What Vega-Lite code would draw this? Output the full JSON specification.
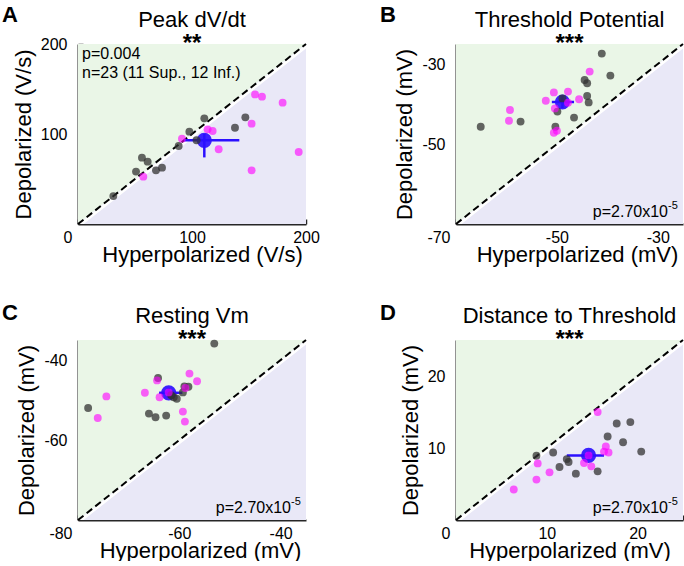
{
"$schema": "https://vega.github.io/schema/vega-lite/v6.json",
"padding": {"left": 2, "top": 4, "right": 0, "bottom": 0},
"datasets": {
"triA": [{"x": 0, "lo": 0, "diag": 0, "hi": 200}, {"x": 200, "lo": 0, "diag": 200, "hi": 200}],
"triB": [{"x": -70, "lo": -70, "diag": -70, "hi": -25}, {"x": -25, "lo": -70, "diag": -25, "hi": -25}],
"triC": [{"x": -80, "lo": -80, "diag": -80, "hi": -35}, {"x": -35, "lo": -80, "diag": -35, "hi": -35}],
"triD": [{"x": 0, "lo": 0, "diag": 0, "hi": 25}, {"x": 25, "lo": 0, "diag": 25, "hi": 25}],
"meanA": [{"h": 110.8, "d": 93, "hlo": 93, "hhi": 141.5, "dlo": 74, "dhi": 100}],
"meanB": [{"h": -48.9, "d": -39.5, "hlo": -51, "hhi": -46.6, "dlo": -41, "dhi": -38}],
"meanC": [{"h": -62.1, "d": -48.2, "hlo": -64, "hhi": -59.4, "dlo": -49.5, "dhi": -47}],
"meanD": [{"h": 14.6, "d": 8.97, "hlo": 12.2, "hhi": 16.3, "dlo": 8.3, "dhi": 9.6}],
"infoA": [{"letter": "A", "title": "Peak dV/dt", "stars": "**", "note": "p=0.004\nn=23 (11 Sup., 12 Inf.)"}],
"infoB": [{"letter": "B", "title": "Threshold Potential", "stars": "***", "note": "p=2.70x10", "sup": "-5"}],
"infoC": [{"letter": "C", "title": "Resting Vm", "stars": "***", "note": "p=2.70x10", "sup": "-5"}],
"infoD": [{"letter": "D", "title": "Distance to Threshold", "stars": "***", "note": "p=2.70x10", "sup": "-5"}],
"ptsA": [
{"group": "Inf", "h": 31, "d": 31}, {"group": "Inf", "h": 50.9, "d": 58.2}, {"group": "Inf", "h": 56.1, "d": 73.7}, {"group": "Inf", "h": 61.1, "d": 69.3}, {"group": "Inf", "h": 68.4, "d": 59.6}, {"group": "Inf", "h": 73.7, "d": 62.6}, {"group": "Inf", "h": 88.3, "d": 86.7}, {"group": "Inf", "h": 97.7, "d": 102.6}, {"group": "Inf", "h": 110.8, "d": 117.4}, {"group": "Inf", "h": 104, "d": 93}, {"group": "Inf", "h": 137.7, "d": 107}, {"group": "Inf", "h": 146.8, "d": 118.5},
{"group": "Sup", "h": 57.3, "d": 52.6}, {"group": "Sup", "h": 91.2, "d": 94.8}, {"group": "Sup", "h": 113.7, "d": 105.2}, {"group": "Sup", "h": 118.1, "d": 103.3}, {"group": "Sup", "h": 123.4, "d": 83}, {"group": "Sup", "h": 152.3, "d": 111.5}, {"group": "Sup", "h": 155.3, "d": 144}, {"group": "Sup", "h": 161.4, "d": 141.5}, {"group": "Sup", "h": 179.5, "d": 134.8}, {"group": "Sup", "h": 193.6, "d": 80}, {"group": "Sup", "h": 152.3, "d": 59.6}],
"ptsB": [
{"group": "Inf", "h": -65.1, "d": -45.7}, {"group": "Inf", "h": -57.2, "d": -44.4}, {"group": "Inf", "h": -50.3, "d": -45.7}, {"group": "Inf", "h": -49.9, "d": -41.9}, {"group": "Inf", "h": -48.9, "d": -38.6}, {"group": "Inf", "h": -46.6, "d": -43.4}, {"group": "Inf", "h": -44.5, "d": -34.0}, {"group": "Inf", "h": -44.0, "d": -34.8}, {"group": "Inf", "h": -44.0, "d": -38.0}, {"group": "Inf", "h": -43.7, "d": -39.6}, {"group": "Inf", "h": -41.1, "d": -27.4}, {"group": "Inf", "h": -39.4, "d": -32.9},
{"group": "Sup", "h": -59.3, "d": -41.5}, {"group": "Sup", "h": -59.5, "d": -44.2}, {"group": "Sup", "h": -52.2, "d": -39.2}, {"group": "Sup", "h": -50.6, "d": -37.1}, {"group": "Sup", "h": -50.4, "d": -41.1}, {"group": "Sup", "h": -50.6, "d": -47.2}, {"group": "Sup", "h": -50.0, "d": -46.7}, {"group": "Sup", "h": -47.8, "d": -36.9}, {"group": "Sup", "h": -47.8, "d": -39.7}, {"group": "Sup", "h": -45.6, "d": -38.8}, {"group": "Sup", "h": -43.5, "d": -31.9}],
"ptsC": [
{"group": "Inf", "h": -78.0, "d": -52.0}, {"group": "Inf", "h": -66.0, "d": -53.4}, {"group": "Inf", "h": -64.7, "d": -54.3}, {"group": "Inf", "h": -62.6, "d": -53.9}, {"group": "Inf", "h": -64.2, "d": -44.5}, {"group": "Inf", "h": -61.1, "d": -49.3}, {"group": "Inf", "h": -60.5, "d": -49.7}, {"group": "Inf", "h": -59.3, "d": -48.1}, {"group": "Inf", "h": -59.0, "d": -46.6}, {"group": "Inf", "h": -58.2, "d": -46.7}, {"group": "Inf", "h": -53.1, "d": -35.9}, {"group": "Inf", "h": -61.6, "d": -48.8},
{"group": "Sup", "h": -76.1, "d": -54.5}, {"group": "Sup", "h": -74.4, "d": -49.1}, {"group": "Sup", "h": -66.8, "d": -48.2}, {"group": "Sup", "h": -64.4, "d": -45.1}, {"group": "Sup", "h": -63.9, "d": -49.3}, {"group": "Sup", "h": -62.1, "d": -48.1}, {"group": "Sup", "h": -59.3, "d": -52.9}, {"group": "Sup", "h": -58.9, "d": -55.4}, {"group": "Sup", "h": -58.8, "d": -47.0}, {"group": "Sup", "h": -58.0, "d": -43.4}, {"group": "Sup", "h": -56.5, "d": -45.3}],
"ptsD": [
{"group": "Inf", "h": 8.86, "d": 8.92}, {"group": "Inf", "h": 10.7, "d": 9.38}, {"group": "Inf", "h": 11.4, "d": 7.36}, {"group": "Inf", "h": 12.2, "d": 8.46}, {"group": "Inf", "h": 12.4, "d": 8.05}, {"group": "Inf", "h": 13.2, "d": 6.44}, {"group": "Inf", "h": 15.6, "d": 6.76}, {"group": "Inf", "h": 16.7, "d": 11.6}, {"group": "Inf", "h": 17.7, "d": 13.4}, {"group": "Inf", "h": 18.4, "d": 10.8}, {"group": "Inf", "h": 19.2, "d": 13.6}, {"group": "Inf", "h": 20.4, "d": 9.5},
{"group": "Sup", "h": 6.36, "d": 4.23}, {"group": "Sup", "h": 8.86, "d": 5.61}, {"group": "Sup", "h": 9.0, "d": 7.86}, {"group": "Sup", "h": 10.3, "d": 6.62}, {"group": "Sup", "h": 14.1, "d": 7.91}, {"group": "Sup", "h": 14.6, "d": 8.97}, {"group": "Sup", "h": 14.9, "d": 7.45}, {"group": "Sup", "h": 15.6, "d": 15.0}, {"group": "Sup", "h": 16.5, "d": 10.2}, {"group": "Sup", "h": 16.8, "d": 9.38}, {"group": "Sup", "h": 16.3, "d": 9.5}]
},
"columns": 2,
"spacing": {"row": 37, "column": 60},
"concat": [
{
"width": 228, "height": 180,
"layer": [
{"data": {"name": "triA"}, "mark": {"type": "area", "color": "#eaf6e7"},
 "encoding": {
  "x": {"field": "x", "type": "quantitative", "scale": {"domain": [0, 200], "nice": false, "zero": false},
        "axis": {"title": "Hyperpolarized (V/s)", "titleX": 124, "values": [0, 100, 200],
                 "labelAlign": {"condition": {"test": "datum.value == 0", "value": "right"}, "value": "center"},
                 "labelOffset": {"condition": {"test": "datum.value == 0", "value": -6}, "value": 0}}},
  "y": {"field": "diag", "type": "quantitative", "scale": {"domain": [0, 200], "nice": false, "zero": false},
        "axis": {"title": "Depolarized (V/s)", "values": [100, 200]}},
  "y2": {"field": "hi"}}},
{"data": {"name": "triA"}, "mark": {"type": "area", "color": "#e9e8f7"},
 "encoding": {"x": {"field": "x", "type": "quantitative"}, "y": {"field": "lo", "type": "quantitative"}, "y2": {"field": "diag"}}},
{"data": {"name": "triA"}, "mark": {"type": "line", "color": "white", "strokeWidth": 3, "yOffset": 2.5, "clip": true},
 "encoding": {"x": {"field": "x", "type": "quantitative"}, "y": {"field": "diag", "type": "quantitative"}}},
{"data": {"name": "triA"}, "mark": {"type": "line", "color": "black", "strokeWidth": 2, "strokeDash": [7, 4]},
 "encoding": {"x": {"field": "x", "type": "quantitative"}, "y": {"field": "diag", "type": "quantitative"}}},
{"data": {"name": "meanA"}, "mark": {"type": "rule", "color": "#2b0fff", "strokeWidth": 2.5},
 "encoding": {"x": {"field": "hlo", "type": "quantitative"}, "x2": {"field": "hhi"}, "y": {"field": "d", "type": "quantitative"}}},
{"data": {"name": "meanA"}, "mark": {"type": "rule", "color": "#2b0fff", "strokeWidth": 2.5},
 "encoding": {"x": {"field": "h", "type": "quantitative"}, "y": {"field": "dlo", "type": "quantitative"}, "y2": {"field": "dhi"}}},
{"data": {"name": "meanA"}, "mark": {"type": "circle", "size": 230, "color": "#2b0fff", "opacity": 0.92},
 "encoding": {"x": {"field": "h", "type": "quantitative"}, "y": {"field": "d", "type": "quantitative"}}},
{"data": {"name": "ptsA"}, "mark": {"type": "circle", "size": 62},
 "encoding": {"x": {"field": "h", "type": "quantitative"}, "y": {"field": "d", "type": "quantitative"},
  "color": {"field": "group", "type": "nominal", "scale": {"domain": ["Sup", "Inf"], "range": ["#ff00ff", "#333333"]}, "legend": null},
  "opacity": {"field": "group", "type": "nominal", "scale": {"domain": ["Sup", "Inf"], "range": [0.62, 0.75]}, "legend": null}}},
{"data": {"name": "infoA"}, "mark": {"type": "text", "align": "left", "baseline": "alphabetic", "dx": 4, "dy": 15, "fontSize": 16, "lineHeight": 19, "lineBreak": "\n", "font": "Liberation Sans", "color": "black"},
 "encoding": {"x": {"datum": 0}, "y": {"datum": 200}, "text": {"field": "note"}}},
{"data": {"name": "infoA"}, "mark": {"type": "text", "align": "center", "baseline": "alphabetic", "dy": -17, "fontSize": 22, "font": "Liberation Sans", "color": "black"},
 "encoding": {"x": {"datum": 100}, "y": {"datum": 200}, "text": {"field": "title"}}},
{"data": {"name": "infoA"}, "mark": {"type": "text", "align": "center", "baseline": "alphabetic", "dy": 7, "fontSize": 24, "fontWeight": "bold", "font": "Liberation Sans", "color": "black"},
 "encoding": {"x": {"datum": 100}, "y": {"datum": 200}, "text": {"field": "stars"}}},
{"data": {"name": "infoA"}, "mark": {"type": "text", "align": "left", "baseline": "alphabetic", "dx": -76, "dy": -22, "fontSize": 22, "fontWeight": "bold", "font": "Liberation Sans", "color": "black"},
 "encoding": {"x": {"datum": 0}, "y": {"datum": 200}, "text": {"field": "letter"}}}
]
},
{
"width": 227, "height": 180,
"layer": [
{"data": {"name": "triB"}, "mark": {"type": "area", "color": "#eaf6e7"},
 "encoding": {
  "x": {"field": "x", "type": "quantitative", "scale": {"domain": [-70, -25], "nice": false, "zero": false},
        "axis": {"title": "Hyperpolarized (mV)", "titleX": 121, "values": [-70, -50, -30], "labelExpr": "'' + datum.value",
                 "labelAlign": {"condition": {"test": "datum.value == -70", "value": "right"}, "value": "center"},
                 "labelOffset": {"condition": {"test": "datum.value == -70", "value": -6}, "value": 0}}},
  "y": {"field": "diag", "type": "quantitative", "scale": {"domain": [-70, -25], "nice": false, "zero": false},
        "axis": {"title": "Depolarized (mV)", "values": [-50, -30], "labelExpr": "'' + datum.value"}},
  "y2": {"field": "hi"}}},
{"data": {"name": "triB"}, "mark": {"type": "area", "color": "#e9e8f7"},
 "encoding": {"x": {"field": "x", "type": "quantitative"}, "y": {"field": "lo", "type": "quantitative"}, "y2": {"field": "diag"}}},
{"data": {"name": "triB"}, "mark": {"type": "line", "color": "white", "strokeWidth": 3, "yOffset": 2.5, "clip": true},
 "encoding": {"x": {"field": "x", "type": "quantitative"}, "y": {"field": "diag", "type": "quantitative"}}},
{"data": {"name": "triB"}, "mark": {"type": "line", "color": "black", "strokeWidth": 2, "strokeDash": [7, 4]},
 "encoding": {"x": {"field": "x", "type": "quantitative"}, "y": {"field": "diag", "type": "quantitative"}}},
{"data": {"name": "meanB"}, "mark": {"type": "rule", "color": "#2b0fff", "strokeWidth": 2.5},
 "encoding": {"x": {"field": "hlo", "type": "quantitative"}, "x2": {"field": "hhi"}, "y": {"field": "d", "type": "quantitative"}}},
{"data": {"name": "meanB"}, "mark": {"type": "rule", "color": "#2b0fff", "strokeWidth": 2.5},
 "encoding": {"x": {"field": "h", "type": "quantitative"}, "y": {"field": "dlo", "type": "quantitative"}, "y2": {"field": "dhi"}}},
{"data": {"name": "meanB"}, "mark": {"type": "circle", "size": 230, "color": "#2b0fff", "opacity": 0.92},
 "encoding": {"x": {"field": "h", "type": "quantitative"}, "y": {"field": "d", "type": "quantitative"}}},
{"data": {"name": "ptsB"}, "mark": {"type": "circle", "size": 62},
 "encoding": {"x": {"field": "h", "type": "quantitative"}, "y": {"field": "d", "type": "quantitative"},
  "color": {"field": "group", "type": "nominal", "scale": {"domain": ["Sup", "Inf"], "range": ["#ff00ff", "#333333"]}, "legend": null},
  "opacity": {"field": "group", "type": "nominal", "scale": {"domain": ["Sup", "Inf"], "range": [0.62, 0.75]}, "legend": null}}},
{"data": {"name": "infoB"}, "mark": {"type": "text", "align": "right", "baseline": "alphabetic", "dx": -15, "dy": -7, "fontSize": 16, "font": "Liberation Sans", "color": "black"},
 "encoding": {"x": {"datum": -25}, "y": {"datum": -70}, "text": {"field": "note"}}},
{"data": {"name": "infoB"}, "mark": {"type": "text", "align": "left", "baseline": "alphabetic", "dx": -15, "dy": -15, "fontSize": 11, "font": "Liberation Sans", "color": "black"},
 "encoding": {"x": {"datum": -25}, "y": {"datum": -70}, "text": {"field": "sup"}}},
{"data": {"name": "infoB"}, "mark": {"type": "text", "align": "center", "baseline": "alphabetic", "dy": -17, "fontSize": 22, "font": "Liberation Sans", "color": "black"},
 "encoding": {"x": {"datum": -47.5}, "y": {"datum": -25}, "text": {"field": "title"}}},
{"data": {"name": "infoB"}, "mark": {"type": "text", "align": "center", "baseline": "alphabetic", "dy": 7, "fontSize": 24, "fontWeight": "bold", "font": "Liberation Sans", "color": "black"},
 "encoding": {"x": {"datum": -47.5}, "y": {"datum": -25}, "text": {"field": "stars"}}},
{"data": {"name": "infoB"}, "mark": {"type": "text", "align": "left", "baseline": "alphabetic", "dx": -76, "dy": -22, "fontSize": 22, "fontWeight": "bold", "font": "Liberation Sans", "color": "black"},
 "encoding": {"x": {"datum": -70}, "y": {"datum": -25}, "text": {"field": "letter"}}}
]
},
{
"width": 228, "height": 180,
"layer": [
{"data": {"name": "triC"}, "mark": {"type": "area", "color": "#eaf6e7"},
 "encoding": {
  "x": {"field": "x", "type": "quantitative", "scale": {"domain": [-80, -35], "nice": false, "zero": false},
        "axis": {"title": "Hyperpolarized (mV)", "titleX": 122, "values": [-80, -60, -40], "labelExpr": "'' + datum.value",
                 "labelAlign": {"condition": {"test": "datum.value == -80", "value": "right"}, "value": "center"},
                 "labelOffset": {"condition": {"test": "datum.value == -80", "value": -6}, "value": 0}}},
  "y": {"field": "diag", "type": "quantitative", "scale": {"domain": [-80, -35], "nice": false, "zero": false},
        "axis": {"title": "Depolarized (mV)", "values": [-60, -40], "labelExpr": "'' + datum.value"}},
  "y2": {"field": "hi"}}},
{"data": {"name": "triC"}, "mark": {"type": "area", "color": "#e9e8f7"},
 "encoding": {"x": {"field": "x", "type": "quantitative"}, "y": {"field": "lo", "type": "quantitative"}, "y2": {"field": "diag"}}},
{"data": {"name": "triC"}, "mark": {"type": "line", "color": "white", "strokeWidth": 3, "yOffset": 2.5, "clip": true},
 "encoding": {"x": {"field": "x", "type": "quantitative"}, "y": {"field": "diag", "type": "quantitative"}}},
{"data": {"name": "triC"}, "mark": {"type": "line", "color": "black", "strokeWidth": 2, "strokeDash": [7, 4]},
 "encoding": {"x": {"field": "x", "type": "quantitative"}, "y": {"field": "diag", "type": "quantitative"}}},
{"data": {"name": "meanC"}, "mark": {"type": "rule", "color": "#2b0fff", "strokeWidth": 2.5},
 "encoding": {"x": {"field": "hlo", "type": "quantitative"}, "x2": {"field": "hhi"}, "y": {"field": "d", "type": "quantitative"}}},
{"data": {"name": "meanC"}, "mark": {"type": "rule", "color": "#2b0fff", "strokeWidth": 2.5},
 "encoding": {"x": {"field": "h", "type": "quantitative"}, "y": {"field": "dlo", "type": "quantitative"}, "y2": {"field": "dhi"}}},
{"data": {"name": "meanC"}, "mark": {"type": "circle", "size": 230, "color": "#2b0fff", "opacity": 0.92},
 "encoding": {"x": {"field": "h", "type": "quantitative"}, "y": {"field": "d", "type": "quantitative"}}},
{"data": {"name": "ptsC"}, "mark": {"type": "circle", "size": 62},
 "encoding": {"x": {"field": "h", "type": "quantitative"}, "y": {"field": "d", "type": "quantitative"},
  "color": {"field": "group", "type": "nominal", "scale": {"domain": ["Sup", "Inf"], "range": ["#ff00ff", "#333333"]}, "legend": null},
  "opacity": {"field": "group", "type": "nominal", "scale": {"domain": ["Sup", "Inf"], "range": [0.62, 0.75]}, "legend": null}}},
{"data": {"name": "infoC"}, "mark": {"type": "text", "align": "right", "baseline": "alphabetic", "dx": -15, "dy": -7, "fontSize": 16, "font": "Liberation Sans", "color": "black"},
 "encoding": {"x": {"datum": -35}, "y": {"datum": -80}, "text": {"field": "note"}}},
{"data": {"name": "infoC"}, "mark": {"type": "text", "align": "left", "baseline": "alphabetic", "dx": -15, "dy": -15, "fontSize": 11, "font": "Liberation Sans", "color": "black"},
 "encoding": {"x": {"datum": -35}, "y": {"datum": -80}, "text": {"field": "sup"}}},
{"data": {"name": "infoC"}, "mark": {"type": "text", "align": "center", "baseline": "alphabetic", "dy": -17, "fontSize": 22, "font": "Liberation Sans", "color": "black"},
 "encoding": {"x": {"datum": -57.5}, "y": {"datum": -35}, "text": {"field": "title"}}},
{"data": {"name": "infoC"}, "mark": {"type": "text", "align": "center", "baseline": "alphabetic", "dy": 7, "fontSize": 24, "fontWeight": "bold", "font": "Liberation Sans", "color": "black"},
 "encoding": {"x": {"datum": -57.5}, "y": {"datum": -35}, "text": {"field": "stars"}}},
{"data": {"name": "infoC"}, "mark": {"type": "text", "align": "left", "baseline": "alphabetic", "dx": -76, "dy": -20, "fontSize": 22, "fontWeight": "bold", "font": "Liberation Sans", "color": "black"},
 "encoding": {"x": {"datum": -80}, "y": {"datum": -35}, "text": {"field": "letter"}}}
]
},
{
"width": 227, "height": 180,
"layer": [
{"data": {"name": "triD"}, "mark": {"type": "area", "color": "#eaf6e7"},
 "encoding": {
  "x": {"field": "x", "type": "quantitative", "scale": {"domain": [0, 25], "nice": false, "zero": false},
        "axis": {"title": "Hyperpolarized (mV)", "values": [0, 5, 10, 15, 20, 25],
                 "labelExpr": "datum.value % 10 == 0 ? datum.label : ''",
                 "labelAlign": {"condition": {"test": "datum.value == 0", "value": "right"}, "value": "center"},
                 "labelOffset": {"condition": {"test": "datum.value == 0", "value": -6}, "value": 0}}},
  "y": {"field": "diag", "type": "quantitative", "scale": {"domain": [0, 25], "nice": false, "zero": false},
        "axis": {"title": "Depolarized (mV)", "values": [5, 10, 15, 20], "labelExpr": "datum.value % 10 == 0 ? datum.label : ''"}},
  "y2": {"field": "hi"}}},
{"data": {"name": "triD"}, "mark": {"type": "area", "color": "#e9e8f7"},
 "encoding": {"x": {"field": "x", "type": "quantitative"}, "y": {"field": "lo", "type": "quantitative"}, "y2": {"field": "diag"}}},
{"data": {"name": "triD"}, "mark": {"type": "line", "color": "white", "strokeWidth": 3, "yOffset": 2.5, "clip": true},
 "encoding": {"x": {"field": "x", "type": "quantitative"}, "y": {"field": "diag", "type": "quantitative"}}},
{"data": {"name": "triD"}, "mark": {"type": "line", "color": "black", "strokeWidth": 2, "strokeDash": [7, 4]},
 "encoding": {"x": {"field": "x", "type": "quantitative"}, "y": {"field": "diag", "type": "quantitative"}}},
{"data": {"name": "meanD"}, "mark": {"type": "rule", "color": "#2b0fff", "strokeWidth": 2.5},
 "encoding": {"x": {"field": "hlo", "type": "quantitative"}, "x2": {"field": "hhi"}, "y": {"field": "d", "type": "quantitative"}}},
{"data": {"name": "meanD"}, "mark": {"type": "rule", "color": "#2b0fff", "strokeWidth": 2.5},
 "encoding": {"x": {"field": "h", "type": "quantitative"}, "y": {"field": "dlo", "type": "quantitative"}, "y2": {"field": "dhi"}}},
{"data": {"name": "meanD"}, "mark": {"type": "circle", "size": 230, "color": "#2b0fff", "opacity": 0.92},
 "encoding": {"x": {"field": "h", "type": "quantitative"}, "y": {"field": "d", "type": "quantitative"}}},
{"data": {"name": "ptsD"}, "mark": {"type": "circle", "size": 62},
 "encoding": {"x": {"field": "h", "type": "quantitative"}, "y": {"field": "d", "type": "quantitative"},
  "color": {"field": "group", "type": "nominal", "scale": {"domain": ["Sup", "Inf"], "range": ["#ff00ff", "#333333"]}, "legend": null},
  "opacity": {"field": "group", "type": "nominal", "scale": {"domain": ["Sup", "Inf"], "range": [0.62, 0.75]}, "legend": null}}},
{"data": {"name": "infoD"}, "mark": {"type": "text", "align": "right", "baseline": "alphabetic", "dx": -15, "dy": -7, "fontSize": 16, "font": "Liberation Sans", "color": "black"},
 "encoding": {"x": {"datum": 25}, "y": {"datum": 0}, "text": {"field": "note"}}},
{"data": {"name": "infoD"}, "mark": {"type": "text", "align": "left", "baseline": "alphabetic", "dx": -15, "dy": -15, "fontSize": 11, "font": "Liberation Sans", "color": "black"},
 "encoding": {"x": {"datum": 25}, "y": {"datum": 0}, "text": {"field": "sup"}}},
{"data": {"name": "infoD"}, "mark": {"type": "text", "align": "center", "baseline": "alphabetic", "dy": -17, "fontSize": 22, "font": "Liberation Sans", "color": "black"},
 "encoding": {"x": {"datum": 12.5}, "y": {"datum": 25}, "text": {"field": "title"}}},
{"data": {"name": "infoD"}, "mark": {"type": "text", "align": "center", "baseline": "alphabetic", "dy": 7, "fontSize": 24, "fontWeight": "bold", "font": "Liberation Sans", "color": "black"},
 "encoding": {"x": {"datum": 12.5}, "y": {"datum": 25}, "text": {"field": "stars"}}},
{"data": {"name": "infoD"}, "mark": {"type": "text", "align": "left", "baseline": "alphabetic", "dx": -76, "dy": -20, "fontSize": 22, "fontWeight": "bold", "font": "Liberation Sans", "color": "black"},
 "encoding": {"x": {"datum": 0}, "y": {"datum": 25}, "text": {"field": "letter"}}}
]
}
],
"config": {
 "view": {"stroke": null},
 "font": "Liberation Sans",
 "axis": {"domainColor": "#262626", "domainWidth": 2, "tickColor": "#262626", "tickWidth": 1.5, "tickSize": -5,
          "labelFont": "Liberation Sans", "labelFontSize": 16, "labelColor": "black", "labelFlush": false, "labelOverlap": false,
          "titleFont": "Liberation Sans", "titleFontSize": 22, "titleFontWeight": "normal", "titleColor": "black", "grid": false},
 "axisX": {"labelPadding": 10, "titlePadding": -1},
 "axisY": {"labelPadding": 16, "titlePadding": 5}
}
}
